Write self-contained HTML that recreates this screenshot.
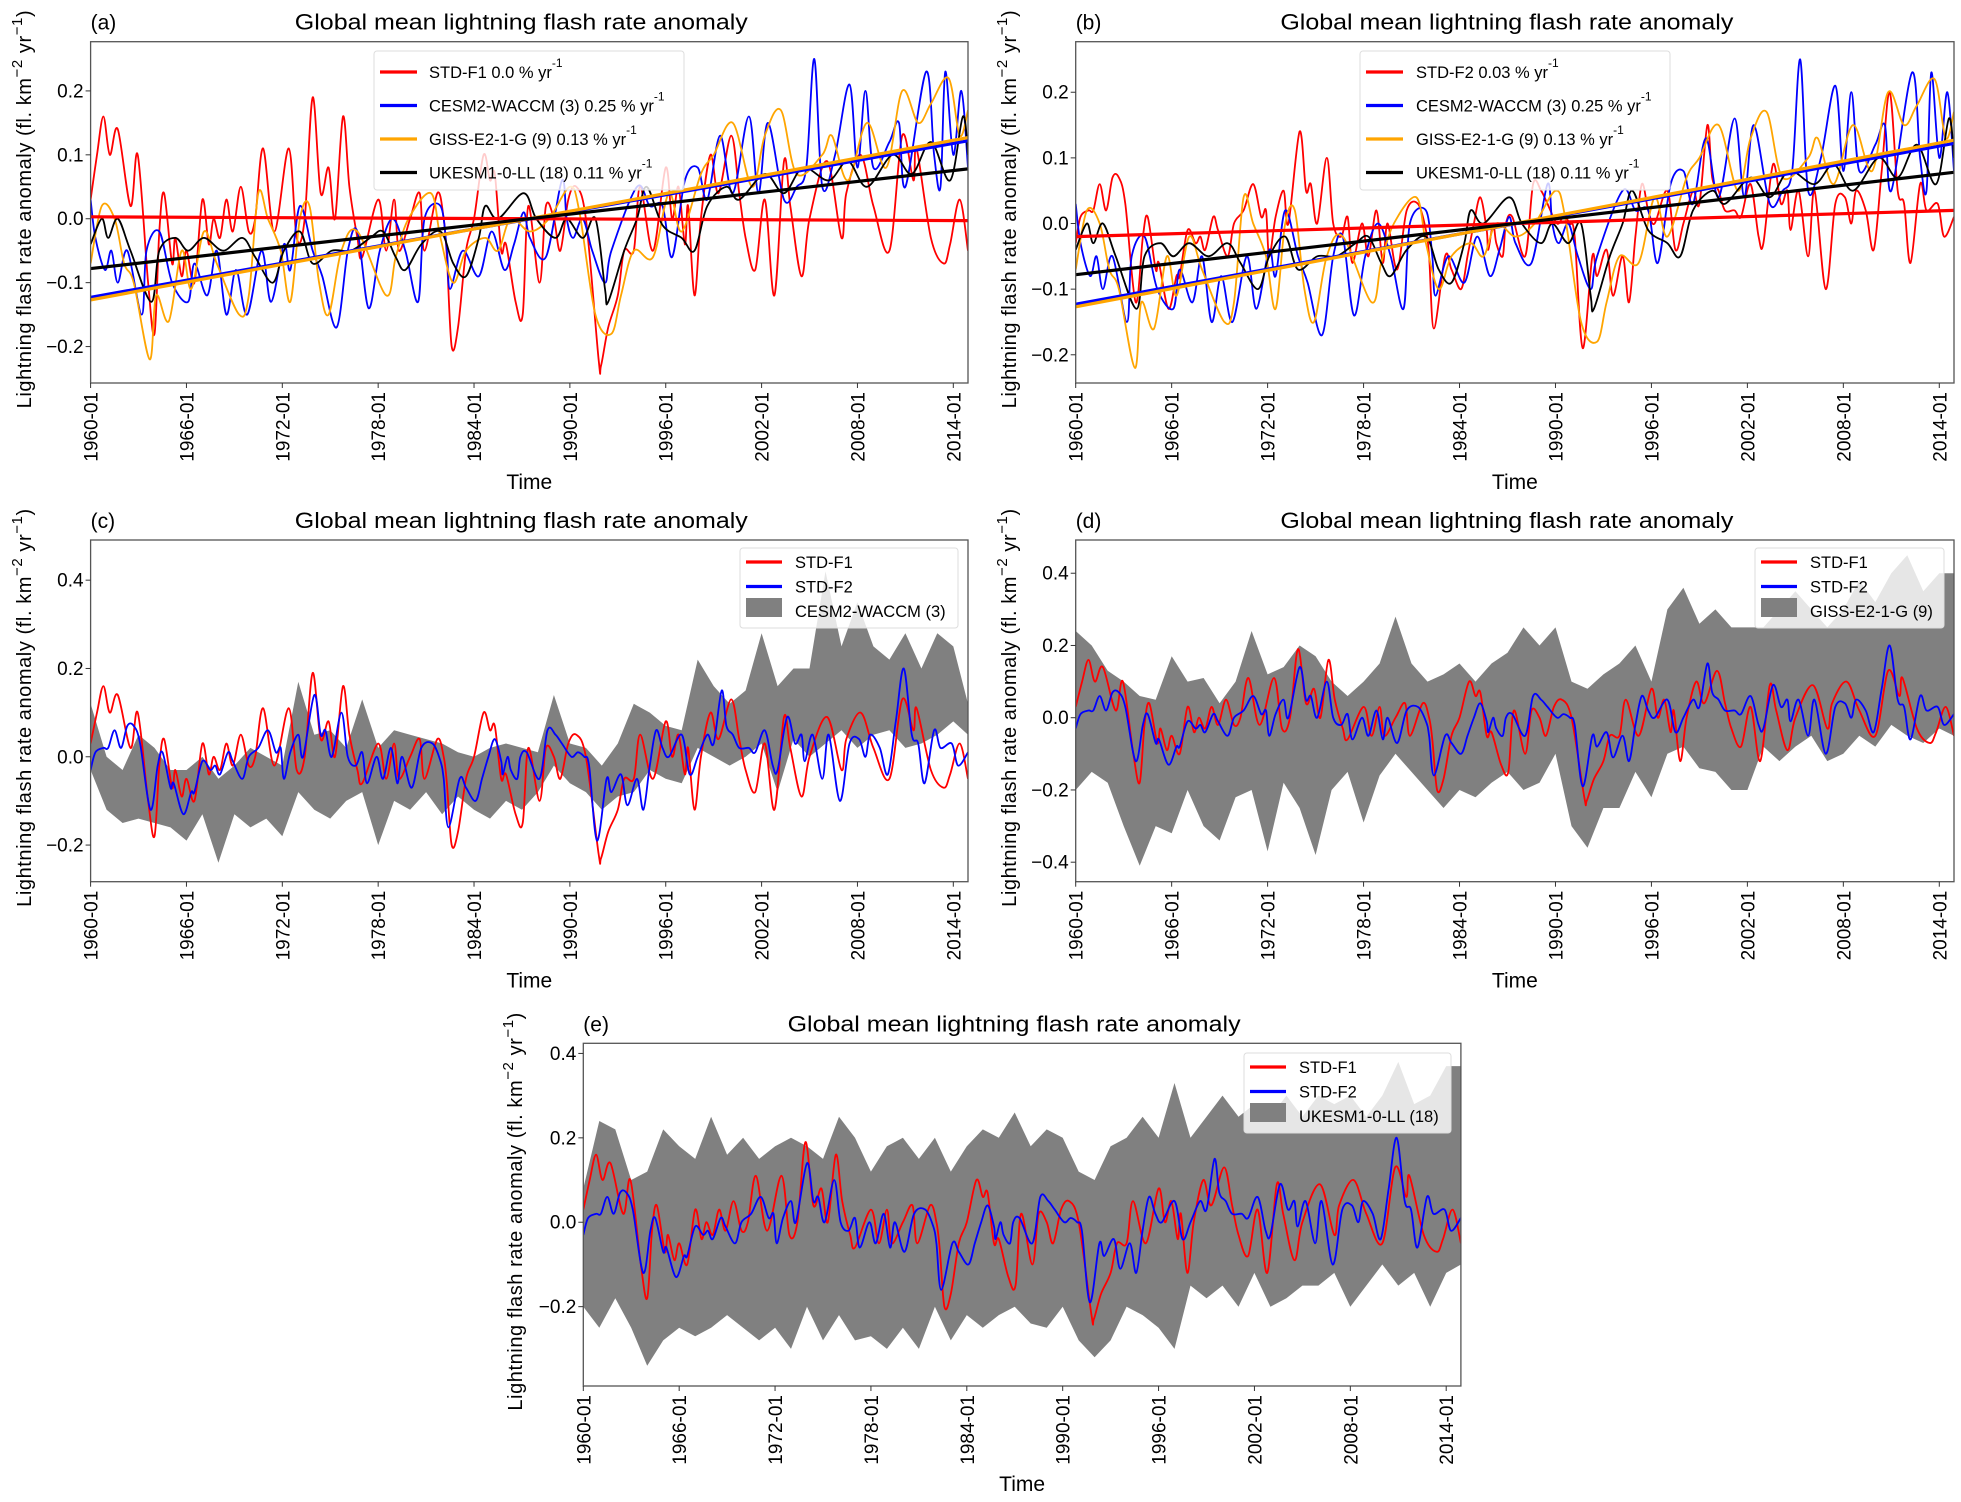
<!DOCTYPE html>
<html><head><meta charset="utf-8"><style>
html,body{margin:0;padding:0;background:#fff;}
svg{display:block;font-family:"Liberation Sans",Arial,sans-serif;}
</style></head><body>
<svg id="fig" width="1961" height="1502" viewBox="0 0 1961 1502" xmlns="http://www.w3.org/2000/svg"></svg>
<script>
// ---------------- data ----------------
const f1Years=[1960.0,1960.4,1960.8,1961.2,1961.7,1962.5,1962.95,1963.6,1964.0,1964.3,1964.6,1965.1,1965.3,1965.7,1966.0,1966.5,1967.0,1967.4,1967.7,1968.1,1968.5,1968.9,1969.4,1969.9,1970.3,1970.8,1971.5,1972.4,1972.9,1973.4,1973.9,1974.4,1974.9,1975.3,1975.8,1976.2,1976.7,1977.0,1978.0,1978.5,1979.0,1979.3,1980.0,1980.6,1980.9,1981.7,1982.1,1982.3,1982.6,1983.0,1983.5,1984.0,1984.6,1985.0,1985.3,1985.7,1986.0,1986.6,1987.05,1987.4,1988.1,1988.5,1989.0,1989.4,1989.9,1990.4,1991.0,1991.8,1991.95,1992.4,1993.0,1993.4,1994.0,1994.4,1995.2,1996.0,1996.4,1996.8,1997.2,1997.4,1997.8,1998.2,1998.8,1999.3,2000.1,2000.6,2001.0,2001.6,2002.2,2002.8,2003.4,2003.8,2004.5,2005.0,2006.1,2007.0,2007.3,2008.2,2009.0,2010.0,2010.8,2011.5,2011.7,2012.6,2013.4,2013.8,2014.4,2014.92];
const f1Vals=[.03,.10,.16,.10,.14,.02,.10,-.10,-.18,-.02,.04,-.07,-.03,-.09,-.05,-.10,.03,-.04,.00,-.03,.03,-.02,.05,-.02,.00,.11,-.02,.11,-.03,.00,.19,.04,.08,.00,.16,.05,-.03,-.06,.03,-.05,.03,-.05,.00,.04,-.05,.04,.00,-.06,-.20,-.17,-.05,.00,.10,.06,.07,-.05,-.04,-.13,-.15,.02,-.10,.02,.00,-.05,.03,.05,.00,-.22,-.23,-.17,-.12,-.05,-.05,.05,-.05,.08,.00,.05,-.04,.02,-.12,.00,.10,.04,.13,.04,-.03,-.08,.03,-.12,.09,.02,-.09,.00,.09,-.03,.04,.10,.02,-.05,.13,.06,.11,-.03,-.07,-.04,.03,-.05];

const f2Years=[1960.0,1960.3,1960.8,1961.1,1961.5,1961.9,1962.3,1962.7,1963.1,1963.75,1964.2,1964.5,1965.0,1965.2,1965.8,1966.3,1966.5,1967.0,1967.5,1967.8,1968.1,1968.6,1968.9,1969.5,1969.9,1970.5,1971.1,1971.6,1971.9,1972.1,1972.5,1973.0,1973.3,1974.0,1974.4,1974.7,1975.1,1975.7,1976.1,1976.6,1977.0,1977.3,1977.9,1978.3,1978.8,1979.2,1979.5,1980.1,1980.7,1981.4,1981.9,1982.1,1982.4,1983.1,1983.5,1984.1,1984.5,1984.9,1985.3,1985.7,1985.8,1986.1,1986.3,1986.7,1986.9,1987.3,1988.1,1988.6,1989.1,1989.5,1990.1,1990.5,1990.9,1991.2,1991.7,1992.3,1992.6,1993.2,1993.6,1994.2,1994.6,1995.0,1995.4,1995.8,1996.2,1997.0,1997.5,1998.0,1998.6,1999.0,1999.5,1999.8,2000.2,2000.6,2001.2,2001.6,2002.2,2002.7,2003.0,2003.6,2004.1,2004.5,2004.7,2005.2,2005.8,2006.2,2006.9,2007.5,2008.1,2008.5,2008.8,2009.4,2009.9,2010.4,2010.9,2011.4,2011.8,2012.2,2012.8,2013.2,2013.9,2014.3,2014.92];
const f2Vals=[-.03,.01,.02,.02,.06,.02,.07,.07,.03,-.12,-.02,.01,-.07,-.06,-.13,-.08,-.08,-.01,-.03,-.02,-.04,.01,-.01,-.05,.00,.02,.06,.01,.02,-.05,.01,.05,.00,.14,.05,.06,.00,.10,.00,-.02,.01,-.06,.00,-.05,.02,-.06,.00,-.07,.02,.03,-.01,-.05,-.16,-.05,-.07,-.10,-.05,.00,.04,-.01,-.04,.00,-.03,-.05,.00,.01,-.05,.06,.05,.03,.00,.01,.00,-.02,-.19,-.05,-.08,-.04,-.11,-.05,-.12,-.02,.06,.02,.00,.05,-.04,.00,.05,.03,.15,.07,.05,.02,.02,.01,.06,-.02,-.03,.09,.03,.05,-.01,.05,-.05,.05,-.10,.03,.04,.00,.05,.02,-.04,.08,.20,.05,.03,-.06,.06,.02,.03,-.02,.01];

const cesmYears=[1960.0,1960.3,1960.9,1961.3,1961.7,1962.3,1963.2,1963.5,1964.3,1965.1,1966.1,1966.5,1967.3,1967.9,1968.5,1969.1,1969.8,1970.7,1971.3,1972.1,1972.5,1973.1,1973.9,1974.5,1975.4,1976.1,1976.7,1977.4,1978.1,1978.9,1979.7,1980.5,1980.9,1981.9,1982.3,1982.5,1983.3,1984.3,1985.1,1985.9,1986.5,1987.1,1987.5,1988.5,1989.5,1989.8,1990.2,1990.8,1991.4,1992.2,1992.6,1994.2,1995.0,1995.8,1996.4,1997.2,1998.0,1998.6,1999.4,2000.2,2001.2,2001.8,2002.4,2003.4,2004.2,2004.8,2005.3,2005.8,2006.6,2007.5,2008.0,2008.5,2009.0,2010.0,2010.6,2011.0,2012.3,2012.8,2013.2,2013.5,2014.0,2014.5,2014.92];
const cesmVals=[.03,-.03,-.08,-.05,-.10,-.05,-.15,-.05,-.02,-.10,-.13,-.07,-.12,-.05,-.15,-.08,-.15,-.05,-.13,-.04,-.08,.02,-.05,-.09,-.17,-.05,-.02,-.14,-.05,.00,-.05,-.13,.00,.02,-.05,-.11,-.05,-.09,-.02,-.08,-.04,.01,-.03,-.06,.06,.00,-.03,.00,-.05,-.10,-.05,.05,.02,.02,-.06,.06,.08,.03,.13,.04,.16,.04,.15,.03,.05,.08,.25,.05,.10,.21,.08,.20,.08,.12,.15,.05,.23,.10,.05,.23,.10,.20,.08];

const gissYears=[1960.0,1960.7,1961.5,1962.1,1962.7,1963.7,1964.1,1964.9,1965.7,1966.3,1967.1,1967.9,1969.3,1969.9,1970.5,1971.1,1971.9,1972.5,1973.1,1973.7,1974.3,1974.9,1975.7,1976.7,1978.5,1979.1,1979.9,1981.3,1981.9,1982.7,1983.5,1984.7,1985.5,1986.3,1987.5,1988.7,1990.0,1990.6,1991.6,1992.6,1993.2,1994.0,1995.2,1996.2,1997.0,1998.2,1999.0,2000.2,2001.4,2002.2,2003.2,2004.2,2005.8,2006.4,2007.4,2008.6,2009.8,2010.8,2011.8,2012.6,2013.7,2014.4,2014.92];
const gissVals=[-.07,.02,.00,-.07,-.10,-.22,-.12,-.16,-.05,-.11,-.02,-.07,-.15,-.12,.04,.00,-.05,-.13,.00,.02,-.10,-.15,-.05,-.02,-.12,-.06,.00,.04,-.03,-.10,-.05,-.03,-.05,.00,-.02,.00,.05,.01,-.15,-.18,-.12,-.05,-.06,.04,-.02,.07,.10,.15,.05,.13,.17,.07,.10,.13,.06,.15,.08,.20,.15,.18,.22,.13,.17];

const ukYears=[1960.0,1960.7,1961.1,1961.7,1962.5,1963.8,1964.3,1965.3,1966.1,1967.1,1968.3,1969.5,1970.3,1971.4,1972.1,1973.1,1973.9,1975.1,1976.3,1977.5,1978.3,1979.1,1979.7,1980.7,1981.9,1982.7,1983.5,1984.3,1984.7,1985.5,1987.1,1987.9,1989.1,1989.8,1990.8,1991.6,1992.2,1992.4,1993.4,1994.2,1994.8,1995.8,1997.0,1997.8,1998.6,1999.8,2000.6,2002.2,2003.4,2004.6,2006.2,2007.4,2008.6,2010.2,2011.4,2012.6,2013.8,2014.6,2014.92];
const ukVals=[-.04,.00,-.03,.00,-.05,-.13,-.05,-.03,-.05,-.03,-.05,-.03,-.06,-.10,-.05,-.02,-.07,-.05,-.05,-.03,-.02,-.06,-.08,-.04,-.02,-.07,-.09,-.03,.02,.00,.04,.00,-.03,.00,-.03,.00,-.11,-.13,-.05,.00,.05,-.01,-.03,-.05,.02,.05,.03,.07,.04,.08,.06,.09,.05,.10,.07,.12,.06,.16,.10];

// trend line endpoints (value at 1960 and at end)
const trendF1=[0.003,-0.003];
const trendF2=[-0.02,0.02];
const trendCesm=[-0.123,0.122];
const trendGiss=[-0.127,0.127];
const trendUk=[-0.078,0.078];

// ensemble ranges (yearly, 1960..2014 plus series end)
const bandYears=[1960,1961,1962,1963,1964,1965,1966,1967,1968,1969,1970,1971,1972,1973,1974,1975,1976,1977,1978,1979,1980,1981,1982,1983,1984,1985,1986,1987,1988,1989,1990,1991,1992,1993,1994,1995,1996,1997,1998,1999,2000,2001,2002,2003,2004,2005,2006,2007,2008,2009,2010,2011,2012,2013,2014,2014.92];
const cesmHi=[.12,.00,-.03,.05,.02,-.03,-.03,.00,-.05,-.02,.02,.00,-.02,.17,.05,.06,.02,.13,.02,.06,.05,.04,.03,.01,.00,.02,.03,.02,.01,.14,.03,.02,-.02,.03,.12,.10,.07,.06,.22,.16,.12,.15,.28,.16,.20,.20,.42,.25,.35,.25,.22,.28,.20,.28,.25,.12];
const cesmLo=[-.03,-.12,-.15,-.14,-.15,-.16,-.19,-.13,-.24,-.13,-.16,-.14,-.18,-.08,-.12,-.14,-.10,-.08,-.20,-.10,-.12,-.08,-.13,-.09,-.12,-.14,-.10,-.12,-.08,-.02,-.06,-.08,-.12,-.09,-.08,-.03,-.05,-.06,.02,.00,-.02,.00,.03,-.08,.04,.00,.03,.06,.02,.05,.06,.02,.03,.05,.08,.05];
const gissHi=[.24,.20,.13,.10,.06,.05,.17,.10,.11,.04,.10,.24,.12,.14,.20,.17,.10,.06,.10,.15,.28,.15,.10,.12,.15,.10,.15,.18,.25,.20,.25,.10,.08,.12,.15,.20,.10,.30,.36,.26,.30,.25,.25,.25,.30,.35,.30,.25,.30,.38,.32,.40,.45,.35,.40,.40];
const gissLo=[-.20,-.15,-.18,-.30,-.41,-.30,-.32,-.20,-.30,-.34,-.22,-.20,-.37,-.18,-.25,-.38,-.20,-.15,-.29,-.16,-.10,-.15,-.20,-.25,-.20,-.22,-.18,-.15,-.20,-.18,-.10,-.30,-.36,-.25,-.25,-.15,-.22,-.10,-.08,-.14,-.15,-.20,-.20,-.08,-.12,-.08,-.05,-.12,-.10,-.05,-.08,-.02,-.05,-.07,-.03,-.05];
const ukHi=[.08,.24,.22,.10,.12,.22,.18,.15,.25,.16,.20,.15,.18,.20,.18,.15,.25,.20,.12,.18,.20,.15,.20,.12,.18,.22,.20,.26,.18,.22,.20,.12,.10,.18,.20,.25,.20,.33,.20,.25,.30,.25,.28,.25,.30,.25,.30,.28,.30,.25,.30,.38,.28,.30,.37,.37];
const ukLo=[-.20,-.25,-.18,-.25,-.34,-.28,-.25,-.27,-.25,-.22,-.25,-.28,-.25,-.30,-.20,-.28,-.22,-.28,-.27,-.30,-.25,-.30,-.20,-.28,-.22,-.25,-.22,-.20,-.24,-.25,-.20,-.28,-.32,-.28,-.20,-.22,-.25,-.30,-.15,-.18,-.15,-.20,-.12,-.20,-.18,-.15,-.15,-.12,-.20,-.15,-.10,-.15,-.12,-.20,-.12,-.10];

const xTickLabels=["1960-01","1966-01","1972-01","1978-01","1984-01","1990-01","1996-01","2002-01","2008-01","2014-01"];
const xTickYears=[1960,1966,1972,1978,1984,1990,1996,2002,2008,2014];

// ---------------- drawing ----------------
const NS="http://www.w3.org/2000/svg";
const svg=document.getElementById('fig');
function mk(tag,attrs,parent){const e=document.createElementNS(NS,tag);for(const k in attrs)e.setAttribute(k,attrs[k]);(parent||svg).appendChild(e);return e;}
const X0=1960,X1=2014.92;

function smoothPath(pts){
  let d="M"+pts[0][0].toFixed(1)+","+pts[0][1].toFixed(1);
  for(let i=0;i<pts.length-1;i++){
    const p0=pts[Math.max(0,i-1)],p1=pts[i],p2=pts[i+1],p3=pts[Math.min(pts.length-1,i+2)];
    const c1x=p1[0]+(p2[0]-p0[0])/6,c1y=p1[1]+(p2[1]-p0[1])/6;
    const c2x=p2[0]-(p3[0]-p1[0])/6,c2y=p2[1]-(p3[1]-p1[1])/6;
    d+="C"+c1x.toFixed(1)+","+c1y.toFixed(1)+" "+c2x.toFixed(1)+","+c2y.toFixed(1)+" "+p2[0].toFixed(1)+","+p2[1].toFixed(1);
  }
  return d;
}

function panel(cfg){
  const g=mk('g',{});
  
  
  const sx=v=>cfg.L+(v-X0)/(X1-X0)*(cfg.R-cfg.L);
  const sy=v=>cfg.B-(v-cfg.ymin)/(cfg.ymax-cfg.ymin)*(cfg.B-cfg.T);
  const cp=mk('clipPath',{id:'clip-'+cfg.id},g);
  mk('rect',{x:cfg.L,y:cfg.T,width:cfg.R-cfg.L,height:cfg.B-cfg.T},cp);
  const plot=mk('g',{'clip-path':'url(#clip-'+cfg.id+')'},g);
  
  
  if(cfg.band){
    const hi=cfg.band[0],lo=cfg.band[1];
    let d="";
    for(let i=0;i<bandYears.length;i++)d+=(i?"L":"M")+sx(bandYears[i]).toFixed(1)+","+sy(hi[i]).toFixed(1);
    for(let i=bandYears.length-1;i>=0;i--)d+="L"+sx(bandYears[i]).toFixed(1)+","+sy(lo[i]).toFixed(1);
    const b=mk('path',{d:d+"Z",fill:'#808080',stroke:'none'},plot);
    
    
  }
  cfg.lines.forEach(ln=>{
    const pts=ln.years.map((y,i)=>[sx(y),sy(ln.vals[i])]);
    const p=mk('path',{d:smoothPath(pts),fill:'none',stroke:ln.color,'stroke-width':1.8,'stroke-linejoin':'round'},plot);
    
    
  });
  (cfg.trends||[]).forEach(tr=>{
    const p=mk('line',{x1:sx(X0),y1:sy(tr.v[0]),x2:sx(X1),y2:sy(tr.v[1]),stroke:tr.color,'stroke-width':3.2},plot);
    
    
  });
  const fr=mk('rect',{x:cfg.L,y:cfg.T,width:cfg.R-cfg.L,height:cfg.B-cfg.T,fill:'none',stroke:'#555','stroke-width':1.3},g);
  
  
  // y ticks
  cfg.yticks.forEach(v=>{
    const y=sy(v);
    mk('line',{x1:cfg.L-5,x2:cfg.L,y1:y,y2:y,stroke:'#333','stroke-width':1},g);
    const t=mk('text',{x:cfg.L-7,y:y+6.5,'text-anchor':'end','font-size':19,fill:'#000'},g);
    t.textContent=(v<0?"\u2212":"")+Math.abs(v).toFixed(1);
    
    
  });
  // x ticks
  xTickYears.forEach((yr,i)=>{
    const x=sx(yr);
    mk('line',{x1:x,x2:x,y1:cfg.B,y2:cfg.B+5,stroke:'#333','stroke-width':1},g);
    const t=mk('text',{x:0,y:0,'text-anchor':'end','font-size':19,fill:'#000',transform:'translate('+(x+7)+','+(cfg.B+9)+') rotate(-90)'},g);
    t.textContent=xTickLabels[i];
    
    
  });
  const xl=mk('text',{x:(cfg.L+cfg.R)/2,y:cfg.B+cfg.timeDy,'text-anchor':'middle','font-size':21,fill:'#000'},g);
  xl.textContent='Time';
  
  
  // y label
  const yl=mk('text',{x:0,y:0,'text-anchor':'middle','font-size':20,fill:'#000',transform:'translate('+(cfg.ylx)+','+((cfg.T+cfg.B)/2-3)+') rotate(-90)',textLength:cfg.ylLen,lengthAdjust:'spacing'},g);
  
  
  const parts=[["Lightning flash rate anomaly (fl.  km",0],["\u22122",1],["  yr",-1],["\u22121",1],[")",-1]];
  parts.forEach(pp=>{const ts=mk('tspan',{},yl);ts.textContent=pp[0];if(pp[1]===1){ts.setAttribute('dy','-9');ts.setAttribute('font-size','15');}else if(pp[1]===-1){ts.setAttribute('dy','9');}});
  // title and letter
  const tt=mk('text',{x:(cfg.L+cfg.R)/2-8,y:cfg.T-12,'text-anchor':'middle','font-size':22,fill:'#000',textLength:453,lengthAdjust:'spacingAndGlyphs'},g);
  tt.textContent='Global mean lightning flash rate anomaly';
  
  
  const lt=mk('text',{x:cfg.L,y:cfg.T-12,'font-size':21,fill:'#000'},g);
  lt.textContent='('+cfg.id+')';
  
  
  // legend
  const lg=cfg.legend;
  const lgG=mk('g',{},g);
  
  
  mk('rect',{x:lg.x,y:lg.y,width:lg.w,height:lg.h,rx:3,fill:'#fff','fill-opacity':0.8,stroke:'#ddd','stroke-width':1},lgG);
  lg.items.forEach((it,i)=>{
    const ey=lg.y0+i*lg.dy;
    const eg=mk('g',{},lgG);
    
    
    if(it.patch){mk('rect',{x:lg.lx,y:ey-6-7,width:lg.lw,height:13+6,fill:'#808080'},eg);}
    else mk('line',{x1:lg.lx,x2:lg.lx+lg.lw,y1:ey,y2:ey,stroke:it.color,'stroke-width':3.2},eg);
    const t=mk('text',{x:lg.tx,y:ey+6,'font-size':16.5,fill:'#000'},eg);
    const s1=mk('tspan',{},t);s1.textContent=it.label;
    if(it.sup){const s2=mk('tspan',{dy:-11,'font-size':12},t);s2.textContent=it.sup;}
  });
}

const sup="-1";
const legendA=(x,w,lx,tx,first)=>({x:x,y:51,w:w,h:139,y0:72,dy:33.5,lx:lx,lw:37,tx:tx,items:[
  {label:first,color:'#ff0000',sup:sup},
  {label:'CESM2-WACCM (3) 0.25 % yr',color:'#0000ff',sup:sup},
  {label:'GISS-E2-1-G (9) 0.13 % yr',color:'#ffa500',sup:sup},
  {label:'UKESM1-0-LL (18) 0.11 % yr',color:'#000000',sup:sup}]});
const legendC=(x,y,w,lx,tx,name)=>({x:x,y:y,w:w,h:80,y0:y+14,dy:24.5,lx:lx,lw:36,tx:tx,items:[
  {label:'STD-F1',color:'#ff0000'},{label:'STD-F2',color:'#0000ff'},{label:name,patch:true}]});

const modelLines=[{name:'cesm2-waccm',years:cesmYears,vals:cesmVals,color:'#0000ff'},
  {name:'giss-e2-1-g',years:gissYears,vals:gissVals,color:'#ffa500'},
  {name:'ukesm1-0-ll',years:ukYears,vals:ukVals,color:'#000000'}];

panel({id:'a',L:90.6,R:968,T:41.7,B:383,ymin:-0.257,ymax:0.277,yticks:[-0.2,-0.1,0,0.1,0.2],timeDy:106,ylx:31,ylLen:398,
  lines:[{name:'std-f1',years:f1Years,vals:f1Vals,color:'#ff0000'}].concat(modelLines),
  trends:[{name:'std-f1',v:trendF1,color:'#ff0000'},{name:'cesm2-waccm',v:trendCesm,color:'#0000ff'},{name:'giss-e2-1-g',v:trendGiss,color:'#ffa500'},{name:'ukesm1-0-ll',v:trendUk,color:'#000000'}],
  legend:legendA(374,310,380,429,'STD-F1 0.0 % yr')});
panel({id:'b',L:1075.7,R:1954,T:41.7,B:383,ymin:-0.243,ymax:0.277,yticks:[-0.2,-0.1,0,0.1,0.2],timeDy:106,ylx:1016,ylLen:398,
  lines:[{name:'std-f2',years:f2Years,vals:f2Vals,color:'#ff0000'}].concat(modelLines),
  trends:[{name:'std-f2',v:trendF2,color:'#ff0000'},{name:'cesm2-waccm',v:trendCesm,color:'#0000ff'},{name:'giss-e2-1-g',v:trendGiss,color:'#ffa500'},{name:'ukesm1-0-ll',v:trendUk,color:'#000000'}],
  legend:legendA(1360,310,1366,1416,'STD-F2 0.03 % yr')});
panel({id:'c',L:90.6,R:968,T:540,B:881.7,ymin:-0.283,ymax:0.491,yticks:[-0.2,0,0.2,0.4],timeDy:106,ylx:31,ylLen:398,band:[cesmHi,cesmLo],
  lines:[{name:'std-f1',years:f1Years,vals:f1Vals,color:'#ff0000'},{name:'std-f2',years:f2Years,vals:f2Vals,color:'#0000ff'}],
  legend:legendC(740,548,218,746,795,'CESM2-WACCM (3)')});
panel({id:'d',L:1075.7,R:1954,T:540,B:881.7,ymin:-0.454,ymax:0.492,yticks:[-0.4,-0.2,0,0.2,0.4],timeDy:106,ylx:1016,ylLen:398,band:[gissHi,gissLo],
  lines:[{name:'std-f1',years:f1Years,vals:f1Vals,color:'#ff0000'},{name:'std-f2',years:f2Years,vals:f2Vals,color:'#0000ff'}],
  legend:legendC(1755,548,189,1761,1810,'GISS-E2-1-G (9)')});
panel({id:'e',L:583.3,R:1460.9,T:1043.3,B:1386,ymin:-0.388,ymax:0.424,yticks:[-0.2,0,0.2,0.4],timeDy:105,ylx:522,ylLen:398,band:[ukHi,ukLo],
  lines:[{name:'std-f1',years:f1Years,vals:f1Vals,color:'#ff0000'},{name:'std-f2',years:f2Years,vals:f2Vals,color:'#0000ff'}],
  legend:legendC(1244,1053,207,1250,1299,'UKESM1-0-LL (18)')});
</script>
</body></html>
